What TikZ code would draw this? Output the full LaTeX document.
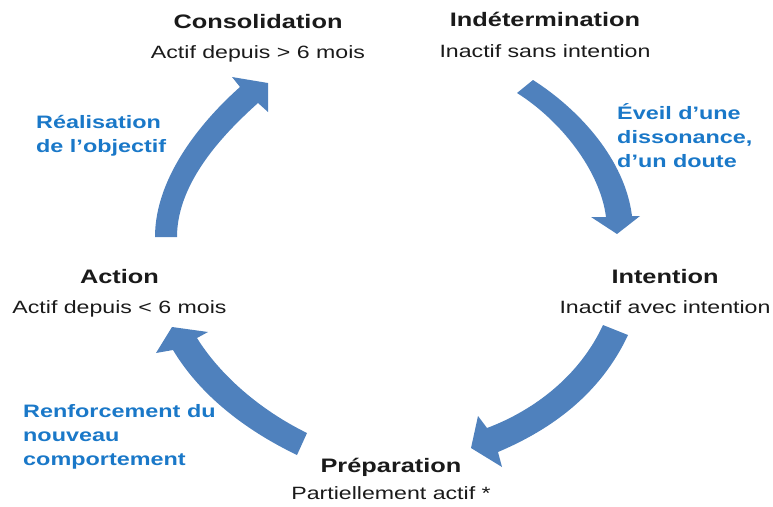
\documentclass[tikz,border=0pt]{standalone}
\usepackage{fontspec}
\setmainfont{Liberation Sans}[FakeStretch=1.3]
\definecolor{arrowblue}{HTML}{4F81BD}
\definecolor{labblue}{HTML}{1A78C8}
\definecolor{txt}{HTML}{1A1A1A}
\tikzset{
  head/.style={inner sep=0pt, anchor=base, text=txt, font=\bfseries\fontsize{19.5}{23}\selectfont},
  sub/.style={inner sep=0pt, anchor=base, text=txt, font=\fontsize{17.8}{21}\selectfont},
  lab/.style={inner sep=0pt, anchor=base west, align=left, text=labblue, font=\bfseries\fontsize{18}{24}\selectfont},
  blockarrow/.style={fill=arrowblue, draw=none}
}
\begin{document}
\begin{tikzpicture}[x=1pt,y=-1pt]
\useasboundingbox (0,0) rectangle (773,506);

% stage titles
\node[head] (consT) at (258,28) {Consolidation};
\node[sub]  (consS) at (258,58) {Actif depuis > 6 mois};
\node[head] (indT) at (545,27) {Indétermination};
\node[sub]  (indS) at (545,57) {Inactif sans intention};
\node[head] (intT) at (665,283) {Intention};
\node[sub]  (intS) at (665,313) {Inactif avec intention};
\node[head] (prepT) at (391,472) {Préparation};
\node[sub]  (prepS) at (391,499) {Partiellement actif *};
\node[head] (actT) at (119.5,283) {Action};
\node[sub]  (actS) at (119.5,313) {Actif depuis < 6 mois};

% transition labels (base anchor = baseline of the last line)
\node[lab] (l1) at (36,152) {Réalisation\\de l’objectif};
\node[lab] (l2) at (617,167) {Éveil d’une\\dissonance,\\d’un doute};
\node[lab] (l3) at (23,465) {Renforcement du\\nouveau\\comportement};

% block arrows
% Action -> Consolidation
\fill[blockarrow] (155,237) .. controls (155,175) and (205,118) .. (240,87)
  -- (232,77) -- (268,83) -- (268,112) -- (258,103)
  .. controls (228,130) and (177,180) .. (177,237) -- cycle;
% Indetermination -> Intention
\fill[blockarrow] (533,80) .. controls (580,110) and (625,160) .. (632,216)
  -- (640,216) -- (617,234) -- (591,217) -- (606,217)
  .. controls (600,170) and (560,120) .. (517,93) -- cycle;
% Intention -> Preparation
\fill[blockarrow] (628,335) .. controls (600,395) and (550,430) .. (498,452)
  -- (502,467) -- (471,448) -- (478,416) -- (487,428)
  .. controls (535,410) and (580,375) .. (603,325) -- cycle;
% Preparation -> Action
\fill[blockarrow] (307,433) .. controls (260,410) and (220,375) .. (197,338)
  -- (208,332) -- (172,327) -- (156,353) -- (173,350)
  .. controls (200,395) and (245,430) .. (297,455) -- cycle;
\end{tikzpicture}
\end{document}
